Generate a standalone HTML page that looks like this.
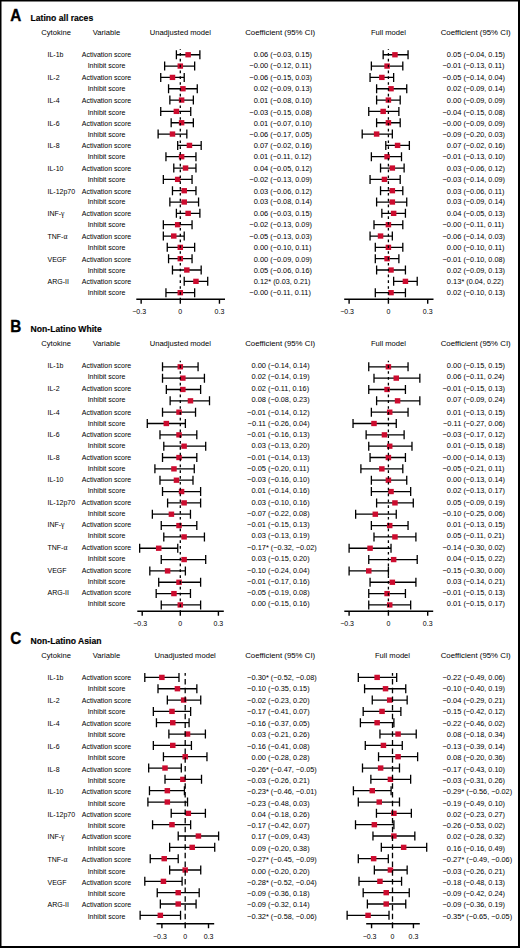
<!DOCTYPE html>
<html><head><meta charset="utf-8"><title>Forest plot</title><style>html,body{margin:0;padding:0;background:#fff;width:520px;height:948px;overflow:hidden}
svg{display:block}
text{font-family:"Liberation Sans",sans-serif;fill:#000}
.L{font-size:16.6px;font-weight:700;fill:#000;stroke:#000;stroke-width:0.35px}
.T{font-size:8.6px;font-weight:700;fill:#000;stroke:#000;stroke-width:0.15px}
.H{font-size:7.6px}
.H2{font-size:7.85px}
.R{font-size:7.0px}
.G{font-family:"Liberation Serif",serif;font-size:7.6px}
.C{font-size:7.5px}
.C2{font-size:7.3px}
.K{font-size:7.0px}
</style></head><body>
<svg width="520" height="948" viewBox="0 0 520 948">
<rect x="0" y="0" width="520" height="948" fill="#fff"/>
<text transform="translate(10.3 20.7) scale(0.92 1)" class="L">A</text>
<text x="30.6" y="20.8" class="T">Latino all races</text>
<text x="56.1" y="35.1" class="H" text-anchor="middle">Cytokine</text>
<text x="106.5" y="35.1" class="H" text-anchor="middle">Variable</text>
<text x="180.3" y="35.1" class="H" text-anchor="middle">Unadjusted model</text>
<text x="280.2" y="35.1" class="H2" text-anchor="middle">Coefficient (95% CI)</text>
<text x="388.4" y="35.1" class="H" text-anchor="middle">Full model</text>
<text x="475.7" y="35.1" class="H2" text-anchor="middle">Coefficient (95% CI)</text>
<text x="47.5" y="56.6" class="R">IL-1b</text>
<text x="106.5" y="56.6" class="R" text-anchor="middle">Activation score</text>
<text x="106.5" y="67.7" class="R" text-anchor="middle">Inhibit score</text>
<text x="47.5" y="79.9" class="R">IL-2</text>
<text x="106.5" y="79.9" class="R" text-anchor="middle">Activation score</text>
<text x="106.5" y="91.2" class="R" text-anchor="middle">Inhibit score</text>
<text x="47.5" y="103.3" class="R">IL-4</text>
<text x="106.5" y="103.3" class="R" text-anchor="middle">Activation score</text>
<text x="106.5" y="114.7" class="R" text-anchor="middle">Inhibit score</text>
<text x="47.5" y="125.7" class="R">IL-6</text>
<text x="106.5" y="125.7" class="R" text-anchor="middle">Activation score</text>
<text x="106.5" y="136.9" class="R" text-anchor="middle">Inhibit score</text>
<text x="47.5" y="148.2" class="R">IL-8</text>
<text x="106.5" y="148.2" class="R" text-anchor="middle">Activation score</text>
<text x="106.5" y="159.4" class="R" text-anchor="middle">Inhibit score</text>
<text x="47.5" y="171" class="R">IL-10</text>
<text x="106.5" y="171" class="R" text-anchor="middle">Activation score</text>
<text x="106.5" y="181.9" class="R" text-anchor="middle">Inhibit score</text>
<text x="47.5" y="193.5" class="R">IL-12p70</text>
<text x="106.5" y="193.5" class="R" text-anchor="middle">Activation score</text>
<text x="106.5" y="204.4" class="R" text-anchor="middle">Inhibit score</text>
<text x="47.5" y="216.1" class="R">INF-<tspan class="G">γ</tspan></text>
<text x="106.5" y="216.1" class="R" text-anchor="middle">Activation score</text>
<text x="106.5" y="226.9" class="R" text-anchor="middle">Inhibit score</text>
<text x="47.5" y="238.9" class="R">TNF-<tspan class="G">α</tspan></text>
<text x="106.5" y="238.9" class="R" text-anchor="middle">Activation score</text>
<text x="106.5" y="249.7" class="R" text-anchor="middle">Inhibit score</text>
<text x="47.5" y="261.7" class="R">VEGF</text>
<text x="106.5" y="261.7" class="R" text-anchor="middle">Activation score</text>
<text x="106.5" y="272.5" class="R" text-anchor="middle">Inhibit score</text>
<text x="47.5" y="284.2" class="R">ARG-II</text>
<text x="106.5" y="284.2" class="R" text-anchor="middle">Activation score</text>
<text x="106.5" y="295.4" class="R" text-anchor="middle">Inhibit score</text>
<text x="268.3" y="56.6" class="C" text-anchor="end">0.06</text>
<text x="268.3" y="56.6" class="C2"> (−0.03, 0.15)</text>
<text x="268.3" y="67.7" class="C" text-anchor="end">−0.00</text>
<text x="268.3" y="67.7" class="C2"> (−0.12, 0.11)</text>
<text x="268.3" y="79.9" class="C" text-anchor="end">−0.06</text>
<text x="268.3" y="79.9" class="C2"> (−0.15, 0.03)</text>
<text x="268.3" y="91.2" class="C" text-anchor="end">0.02</text>
<text x="268.3" y="91.2" class="C2"> (−0.09, 0.13)</text>
<text x="268.3" y="103.3" class="C" text-anchor="end">0.01</text>
<text x="268.3" y="103.3" class="C2"> (−0.08, 0.10)</text>
<text x="268.3" y="114.7" class="C" text-anchor="end">−0.03</text>
<text x="268.3" y="114.7" class="C2"> (−0.15, 0.08)</text>
<text x="268.3" y="125.7" class="C" text-anchor="end">0.01</text>
<text x="268.3" y="125.7" class="C2"> (−0.07, 0.10)</text>
<text x="268.3" y="136.9" class="C" text-anchor="end">−0.06</text>
<text x="268.3" y="136.9" class="C2"> (−0.17, 0.05)</text>
<text x="268.3" y="148.2" class="C" text-anchor="end">0.07</text>
<text x="268.3" y="148.2" class="C2"> (−0.02, 0.16)</text>
<text x="268.3" y="159.4" class="C" text-anchor="end">0.01</text>
<text x="268.3" y="159.4" class="C2"> (−0.11, 0.12)</text>
<text x="268.3" y="171" class="C" text-anchor="end">0.04</text>
<text x="268.3" y="171" class="C2"> (−0.05, 0.12)</text>
<text x="268.3" y="181.9" class="C" text-anchor="end">−0.02</text>
<text x="268.3" y="181.9" class="C2"> (−0.13, 0.09)</text>
<text x="268.3" y="193.5" class="C" text-anchor="end">0.03</text>
<text x="268.3" y="193.5" class="C2"> (−0.06, 0.12)</text>
<text x="268.3" y="204.4" class="C" text-anchor="end">0.03</text>
<text x="268.3" y="204.4" class="C2"> (−0.08, 0.14)</text>
<text x="268.3" y="216.1" class="C" text-anchor="end">0.06</text>
<text x="268.3" y="216.1" class="C2"> (−0.03, 0.15)</text>
<text x="268.3" y="226.9" class="C" text-anchor="end">−0.02</text>
<text x="268.3" y="226.9" class="C2"> (−0.13, 0.09)</text>
<text x="268.3" y="238.9" class="C" text-anchor="end">−0.05</text>
<text x="268.3" y="238.9" class="C2"> (−0.13, 0.03)</text>
<text x="268.3" y="249.7" class="C" text-anchor="end">0.00</text>
<text x="268.3" y="249.7" class="C2"> (−0.10, 0.11)</text>
<text x="268.3" y="261.7" class="C" text-anchor="end">0.00</text>
<text x="268.3" y="261.7" class="C2"> (−0.09, 0.09)</text>
<text x="268.3" y="272.5" class="C" text-anchor="end">0.05</text>
<text x="268.3" y="272.5" class="C2"> (−0.06, 0.16)</text>
<text x="268.3" y="284.2" class="C" text-anchor="end">0.12</text>
<text x="268.3" y="284.2" class="C2">* (0.03, 0.21)</text>
<text x="268.3" y="295.4" class="C" text-anchor="end">−0.00</text>
<text x="268.3" y="295.4" class="C2"> (−0.11, 0.11)</text>
<path d="M176.39 54.75H199.88M164.64 66.08H194.66M160.73 77.41H184.22M168.56 88.74H197.27M169.86 100.07H193.35M160.73 111.4H190.74M171.17 122.73H193.35M158.12 134.06H186.83M177.69 145.39H201.18M165.95 156.72H195.96M173.78 168.05H195.96M163.34 179.38H192.05M172.47 190.71H195.96M169.86 202.04H198.57M176.39 213.37H199.88M163.34 224.7H192.05M163.34 236.03H184.22M167.25 247.36H194.66M168.56 258.69H192.05M172.47 270.02H201.18M184.22 281.35H207.71M165.95 292.68H194.66M176.39 50.25v9.0M199.88 50.25v9.0M164.64 61.58v9.0M194.66 61.58v9.0M160.73 72.91v9.0M184.22 72.91v9.0M168.56 84.24v9.0M197.27 84.24v9.0M169.86 95.57v9.0M193.35 95.57v9.0M160.73 106.9v9.0M190.74 106.9v9.0M171.17 118.23v9.0M193.35 118.23v9.0M158.12 129.56v9.0M186.83 129.56v9.0M177.69 140.89v9.0M201.18 140.89v9.0M165.95 152.22v9.0M195.96 152.22v9.0M173.78 163.55v9.0M195.96 163.55v9.0M163.34 174.88v9.0M192.05 174.88v9.0M172.47 186.21v9.0M195.96 186.21v9.0M169.86 197.54v9.0M198.57 197.54v9.0M176.39 208.87v9.0M199.88 208.87v9.0M163.34 220.2v9.0M192.05 220.2v9.0M163.34 231.53v9.0M184.22 231.53v9.0M167.25 242.86v9.0M194.66 242.86v9.0M168.56 254.19v9.0M192.05 254.19v9.0M172.47 265.52v9.0M201.18 265.52v9.0M184.22 276.85v9.0M207.71 276.85v9.0M165.95 288.18v9.0M194.66 288.18v9.0" stroke="#000" stroke-width="1.3" fill="none"/>
<g fill="#cc0c2f"><rect x="185.38" y="52.1" width="5.5" height="5.3"/><rect x="177.55" y="63.43" width="5.5" height="5.3"/><rect x="169.72" y="74.76" width="5.5" height="5.3"/><rect x="180.16" y="86.09" width="5.5" height="5.3"/><rect x="178.86" y="97.42" width="5.5" height="5.3"/><rect x="173.64" y="108.75" width="5.5" height="5.3"/><rect x="178.86" y="120.08" width="5.5" height="5.3"/><rect x="169.72" y="131.41" width="5.5" height="5.3"/><rect x="186.69" y="142.74" width="5.5" height="5.3"/><rect x="178.86" y="154.07" width="5.5" height="5.3"/><rect x="182.77" y="165.4" width="5.5" height="5.3"/><rect x="174.94" y="176.73" width="5.5" height="5.3"/><rect x="181.47" y="188.06" width="5.5" height="5.3"/><rect x="181.47" y="199.39" width="5.5" height="5.3"/><rect x="185.38" y="210.72" width="5.5" height="5.3"/><rect x="174.94" y="222.05" width="5.5" height="5.3"/><rect x="171.03" y="233.38" width="5.5" height="5.3"/><rect x="177.55" y="244.71" width="5.5" height="5.3"/><rect x="177.55" y="256.04" width="5.5" height="5.3"/><rect x="184.08" y="267.37" width="5.5" height="5.3"/><rect x="193.21" y="278.7" width="5.5" height="5.3"/><rect x="177.55" y="290.03" width="5.5" height="5.3"/></g>
<path d="M180.3 48.9V299.3" stroke="#000" stroke-width="1.3" stroke-dasharray="2.65 3.18" stroke-dashoffset="1.73" fill="none"/>
<path d="M136.3 299.3H225M141.15 299.3v4.5M180.3 299.3v4.5M219.45 299.3v4.5" stroke="#000" stroke-width="1.4" fill="none"/>
<text x="139.15" y="314.3" class="K" text-anchor="middle">−0.3</text>
<text x="180.3" y="314.3" class="K" text-anchor="middle">0</text>
<text x="219.45" y="314.3" class="K" text-anchor="middle">0.3</text>
<text x="461.4" y="56.6" class="C" text-anchor="end">0.05</text>
<text x="461.4" y="56.6" class="C2"> (−0.04, 0.15)</text>
<text x="461.4" y="67.7" class="C" text-anchor="end">−0.01</text>
<text x="461.4" y="67.7" class="C2"> (−0.13, 0.11)</text>
<text x="461.4" y="79.9" class="C" text-anchor="end">−0.05</text>
<text x="461.4" y="79.9" class="C2"> (−0.14, 0.04)</text>
<text x="461.4" y="91.2" class="C" text-anchor="end">0.02</text>
<text x="461.4" y="91.2" class="C2"> (−0.09, 0.14)</text>
<text x="461.4" y="103.3" class="C" text-anchor="end">0.00</text>
<text x="461.4" y="103.3" class="C2"> (−0.09, 0.09)</text>
<text x="461.4" y="114.7" class="C" text-anchor="end">−0.04</text>
<text x="461.4" y="114.7" class="C2"> (−0.15, 0.08)</text>
<text x="461.4" y="125.7" class="C" text-anchor="end">−0.00</text>
<text x="461.4" y="125.7" class="C2"> (−0.09, 0.09)</text>
<text x="461.4" y="136.9" class="C" text-anchor="end">−0.09</text>
<text x="461.4" y="136.9" class="C2"> (−0.20, 0.03)</text>
<text x="461.4" y="148.2" class="C" text-anchor="end">0.07</text>
<text x="461.4" y="148.2" class="C2"> (−0.02, 0.16)</text>
<text x="461.4" y="159.4" class="C" text-anchor="end">−0.01</text>
<text x="461.4" y="159.4" class="C2"> (−0.13, 0.10)</text>
<text x="461.4" y="171" class="C" text-anchor="end">0.03</text>
<text x="461.4" y="171" class="C2"> (−0.06, 0.12)</text>
<text x="461.4" y="181.9" class="C" text-anchor="end">−0.03</text>
<text x="461.4" y="181.9" class="C2"> (−0.14, 0.09)</text>
<text x="461.4" y="193.5" class="C" text-anchor="end">0.03</text>
<text x="461.4" y="193.5" class="C2"> (−0.06, 0.11)</text>
<text x="461.4" y="204.4" class="C" text-anchor="end">0.03</text>
<text x="461.4" y="204.4" class="C2"> (−0.09, 0.14)</text>
<text x="461.4" y="216.1" class="C" text-anchor="end">0.04</text>
<text x="461.4" y="216.1" class="C2"> (−0.05, 0.13)</text>
<text x="461.4" y="226.9" class="C" text-anchor="end">−0.00</text>
<text x="461.4" y="226.9" class="C2"> (−0.11, 0.11)</text>
<text x="461.4" y="238.9" class="C" text-anchor="end">−0.06</text>
<text x="461.4" y="238.9" class="C2"> (−0.14, 0.03)</text>
<text x="461.4" y="249.7" class="C" text-anchor="end">0.00</text>
<text x="461.4" y="249.7" class="C2"> (−0.10, 0.11)</text>
<text x="461.4" y="261.7" class="C" text-anchor="end">−0.01</text>
<text x="461.4" y="261.7" class="C2"> (−0.10, 0.08)</text>
<text x="461.4" y="272.5" class="C" text-anchor="end">0.02</text>
<text x="461.4" y="272.5" class="C2"> (−0.09, 0.13)</text>
<text x="461.4" y="284.2" class="C" text-anchor="end">0.13</text>
<text x="461.4" y="284.2" class="C2">* (0.04, 0.22)</text>
<text x="461.4" y="295.4" class="C" text-anchor="end">0.02</text>
<text x="461.4" y="295.4" class="C2"> (−0.10, 0.13)</text>
<path d="M383.16 54.75H408.05M371.37 66.08H402.81M370.06 77.41H393.64M376.61 88.74H406.74M376.61 100.07H400.19M368.75 111.4H398.88M376.61 122.73H400.19M362.2 134.06H392.33M385.78 145.39H409.36M371.37 156.72H401.5M380.54 168.05H404.12M370.06 179.38H400.19M380.54 190.71H402.81M376.61 202.04H406.74M381.85 213.37H405.43M373.99 224.7H402.81M370.06 236.03H392.33M375.3 247.36H402.81M375.3 258.69H398.88M376.61 270.02H405.43M393.64 281.35H417.22M375.3 292.68H405.43M383.16 50.25v9.0M408.05 50.25v9.0M371.37 61.58v9.0M402.81 61.58v9.0M370.06 72.91v9.0M393.64 72.91v9.0M376.61 84.24v9.0M406.74 84.24v9.0M376.61 95.57v9.0M400.19 95.57v9.0M368.75 106.9v9.0M398.88 106.9v9.0M376.61 118.23v9.0M400.19 118.23v9.0M362.2 129.56v9.0M392.33 129.56v9.0M385.78 140.89v9.0M409.36 140.89v9.0M371.37 152.22v9.0M401.5 152.22v9.0M380.54 163.55v9.0M404.12 163.55v9.0M370.06 174.88v9.0M400.19 174.88v9.0M380.54 186.21v9.0M402.81 186.21v9.0M376.61 197.54v9.0M406.74 197.54v9.0M381.85 208.87v9.0M405.43 208.87v9.0M373.99 220.2v9.0M402.81 220.2v9.0M370.06 231.53v9.0M392.33 231.53v9.0M375.3 242.86v9.0M402.81 242.86v9.0M375.3 254.19v9.0M398.88 254.19v9.0M376.61 265.52v9.0M405.43 265.52v9.0M393.64 276.85v9.0M417.22 276.85v9.0M375.3 288.18v9.0M405.43 288.18v9.0" stroke="#000" stroke-width="1.3" fill="none"/>
<g fill="#cc0c2f"><rect x="392.2" y="52.1" width="5.5" height="5.3"/><rect x="384.34" y="63.43" width="5.5" height="5.3"/><rect x="379.1" y="74.76" width="5.5" height="5.3"/><rect x="388.27" y="86.09" width="5.5" height="5.3"/><rect x="385.65" y="97.42" width="5.5" height="5.3"/><rect x="380.41" y="108.75" width="5.5" height="5.3"/><rect x="385.65" y="120.08" width="5.5" height="5.3"/><rect x="373.86" y="131.41" width="5.5" height="5.3"/><rect x="394.82" y="142.74" width="5.5" height="5.3"/><rect x="384.34" y="154.07" width="5.5" height="5.3"/><rect x="389.58" y="165.4" width="5.5" height="5.3"/><rect x="381.72" y="176.73" width="5.5" height="5.3"/><rect x="389.58" y="188.06" width="5.5" height="5.3"/><rect x="389.58" y="199.39" width="5.5" height="5.3"/><rect x="390.89" y="210.72" width="5.5" height="5.3"/><rect x="385.65" y="222.05" width="5.5" height="5.3"/><rect x="377.79" y="233.38" width="5.5" height="5.3"/><rect x="385.65" y="244.71" width="5.5" height="5.3"/><rect x="384.34" y="256.04" width="5.5" height="5.3"/><rect x="388.27" y="267.37" width="5.5" height="5.3"/><rect x="402.68" y="278.7" width="5.5" height="5.3"/><rect x="388.27" y="290.03" width="5.5" height="5.3"/></g>
<path d="M388.4 48.9V299.3" stroke="#000" stroke-width="1.3" stroke-dasharray="2.65 3.18" stroke-dashoffset="1.73" fill="none"/>
<path d="M344.2 299.3H433.5M349.1 299.3v4.5M388.4 299.3v4.5M427.7 299.3v4.5" stroke="#000" stroke-width="1.4" fill="none"/>
<text x="347.1" y="314.3" class="K" text-anchor="middle">−0.3</text>
<text x="388.4" y="314.3" class="K" text-anchor="middle">0</text>
<text x="427.7" y="314.3" class="K" text-anchor="middle">0.3</text>
<text transform="translate(10.3 332.1) scale(0.92 1)" class="L">B</text>
<text x="30.6" y="332" class="T">Non-Latino White</text>
<text x="56.1" y="346.4" class="H" text-anchor="middle">Cytokine</text>
<text x="106.5" y="346.4" class="H" text-anchor="middle">Variable</text>
<text x="180.3" y="346.4" class="H" text-anchor="middle">Unadjusted model</text>
<text x="280.2" y="346.4" class="H2" text-anchor="middle">Coefficient (95% CI)</text>
<text x="388.4" y="346.4" class="H" text-anchor="middle">Full model</text>
<text x="475.7" y="346.4" class="H2" text-anchor="middle">Coefficient (95% CI)</text>
<text x="47.5" y="367.8" class="R">IL-1b</text>
<text x="106.5" y="367.8" class="R" text-anchor="middle">Activation score</text>
<text x="106.5" y="379.1" class="R" text-anchor="middle">Inhibit score</text>
<text x="47.5" y="391.2" class="R">IL-2</text>
<text x="106.5" y="391.2" class="R" text-anchor="middle">Activation score</text>
<text x="106.5" y="402.4" class="R" text-anchor="middle">Inhibit score</text>
<text x="47.5" y="414.5" class="R">IL-4</text>
<text x="106.5" y="414.5" class="R" text-anchor="middle">Activation score</text>
<text x="106.5" y="425.5" class="R" text-anchor="middle">Inhibit score</text>
<text x="47.5" y="437" class="R">IL-6</text>
<text x="106.5" y="437" class="R" text-anchor="middle">Activation score</text>
<text x="106.5" y="448.3" class="R" text-anchor="middle">Inhibit score</text>
<text x="47.5" y="459.6" class="R">IL-8</text>
<text x="106.5" y="459.6" class="R" text-anchor="middle">Activation score</text>
<text x="106.5" y="470.5" class="R" text-anchor="middle">Inhibit score</text>
<text x="47.5" y="482.3" class="R">IL-10</text>
<text x="106.5" y="482.3" class="R" text-anchor="middle">Activation score</text>
<text x="106.5" y="493.3" class="R" text-anchor="middle">Inhibit score</text>
<text x="47.5" y="504.8" class="R">IL-12p70</text>
<text x="106.5" y="504.8" class="R" text-anchor="middle">Activation score</text>
<text x="106.5" y="515.8" class="R" text-anchor="middle">Inhibit score</text>
<text x="47.5" y="527" class="R">INF-<tspan class="G">γ</tspan></text>
<text x="106.5" y="527" class="R" text-anchor="middle">Activation score</text>
<text x="106.5" y="538.3" class="R" text-anchor="middle">Inhibit score</text>
<text x="47.5" y="549.8" class="R">TNF-<tspan class="G">α</tspan></text>
<text x="106.5" y="549.8" class="R" text-anchor="middle">Activation score</text>
<text x="106.5" y="561.1" class="R" text-anchor="middle">Inhibit score</text>
<text x="47.5" y="572.7" class="R">VEGF</text>
<text x="106.5" y="572.7" class="R" text-anchor="middle">Activation score</text>
<text x="106.5" y="583.9" class="R" text-anchor="middle">Inhibit score</text>
<text x="47.5" y="595" class="R">ARG-II</text>
<text x="106.5" y="595" class="R" text-anchor="middle">Activation score</text>
<text x="106.5" y="606.4" class="R" text-anchor="middle">Inhibit score</text>
<text x="266" y="367.8" class="C" text-anchor="end">0.00</text>
<text x="266" y="367.8" class="C2"> (−0.14, 0.14)</text>
<text x="266" y="379.1" class="C" text-anchor="end">0.02</text>
<text x="266" y="379.1" class="C2"> (−0.14, 0.19)</text>
<text x="266" y="391.2" class="C" text-anchor="end">0.02</text>
<text x="266" y="391.2" class="C2"> (−0.11, 0.16)</text>
<text x="266" y="402.4" class="C" text-anchor="end">0.08</text>
<text x="266" y="402.4" class="C2"> (−0.08, 0.23)</text>
<text x="266" y="414.5" class="C" text-anchor="end">−0.01</text>
<text x="266" y="414.5" class="C2"> (−0.14, 0.12)</text>
<text x="266" y="425.5" class="C" text-anchor="end">−0.11</text>
<text x="266" y="425.5" class="C2"> (−0.26, 0.04)</text>
<text x="266" y="437" class="C" text-anchor="end">−0.01</text>
<text x="266" y="437" class="C2"> (−0.16, 0.13)</text>
<text x="266" y="448.3" class="C" text-anchor="end">0.03</text>
<text x="266" y="448.3" class="C2"> (−0.13, 0.20)</text>
<text x="266" y="459.6" class="C" text-anchor="end">−0.01</text>
<text x="266" y="459.6" class="C2"> (−0.14, 0.13)</text>
<text x="266" y="470.5" class="C" text-anchor="end">−0.05</text>
<text x="266" y="470.5" class="C2"> (−0.20, 0.11)</text>
<text x="266" y="482.3" class="C" text-anchor="end">−0.03</text>
<text x="266" y="482.3" class="C2"> (−0.16, 0.10)</text>
<text x="266" y="493.3" class="C" text-anchor="end">0.01</text>
<text x="266" y="493.3" class="C2"> (−0.14, 0.16)</text>
<text x="266" y="504.8" class="C" text-anchor="end">0.03</text>
<text x="266" y="504.8" class="C2"> (−0.10, 0.16)</text>
<text x="266" y="515.8" class="C" text-anchor="end">−0.07</text>
<text x="266" y="515.8" class="C2"> (−0.22, 0.08)</text>
<text x="266" y="527" class="C" text-anchor="end">−0.01</text>
<text x="266" y="527" class="C2"> (−0.15, 0.13)</text>
<text x="266" y="538.3" class="C" text-anchor="end">0.03</text>
<text x="266" y="538.3" class="C2"> (−0.13, 0.19)</text>
<text x="266" y="549.8" class="C" text-anchor="end">−0.17</text>
<text x="266" y="549.8" class="C2">* (−0.32, −0.02)</text>
<text x="266" y="561.1" class="C" text-anchor="end">0.03</text>
<text x="266" y="561.1" class="C2"> (−0.15, 0.20)</text>
<text x="266" y="572.7" class="C" text-anchor="end">−0.10</text>
<text x="266" y="572.7" class="C2"> (−0.24, 0.04)</text>
<text x="266" y="583.9" class="C" text-anchor="end">−0.01</text>
<text x="266" y="583.9" class="C2"> (−0.17, 0.16)</text>
<text x="266" y="595" class="C" text-anchor="end">−0.05</text>
<text x="266" y="595" class="C2"> (−0.19, 0.08)</text>
<text x="266" y="606.4" class="C" text-anchor="end">0.00</text>
<text x="266" y="606.4" class="C2"> (−0.15, 0.16)</text>
<path d="M162.52 366.8H198.08M162.52 378.14H204.43M166.33 389.48H200.62M170.14 400.82H209.51M162.52 412.16H195.54M147.28 423.5H185.38M159.98 434.84H196.81M163.79 446.18H205.7M162.52 457.52H196.81M154.9 468.86H194.27M159.98 480.2H193M162.52 491.54H200.62M167.6 502.88H200.62M152.36 514.22H190.46M161.25 525.56H196.81M163.79 536.9H204.43M139.66 548.24H177.76M161.25 559.58H205.7M149.82 570.92H185.38M158.71 582.26H200.62M156.17 593.6H190.46M161.25 604.94H200.62M162.52 362.3v9.0M198.08 362.3v9.0M162.52 373.64v9.0M204.43 373.64v9.0M166.33 384.98v9.0M200.62 384.98v9.0M170.14 396.32v9.0M209.51 396.32v9.0M162.52 407.66v9.0M195.54 407.66v9.0M147.28 419v9.0M185.38 419v9.0M159.98 430.34v9.0M196.81 430.34v9.0M163.79 441.68v9.0M205.7 441.68v9.0M162.52 453.02v9.0M196.81 453.02v9.0M154.9 464.36v9.0M194.27 464.36v9.0M159.98 475.7v9.0M193 475.7v9.0M162.52 487.04v9.0M200.62 487.04v9.0M167.6 498.38v9.0M200.62 498.38v9.0M152.36 509.72v9.0M190.46 509.72v9.0M161.25 521.06v9.0M196.81 521.06v9.0M163.79 532.4v9.0M204.43 532.4v9.0M139.66 543.74v9.0M177.76 543.74v9.0M161.25 555.08v9.0M205.7 555.08v9.0M149.82 566.42v9.0M185.38 566.42v9.0M158.71 577.76v9.0M200.62 577.76v9.0M156.17 589.1v9.0M190.46 589.1v9.0M161.25 600.44v9.0M200.62 600.44v9.0" stroke="#000" stroke-width="1.3" fill="none"/>
<g fill="#cc0c2f"><rect x="177.55" y="364.15" width="5.5" height="5.3"/><rect x="180.09" y="375.49" width="5.5" height="5.3"/><rect x="180.09" y="386.83" width="5.5" height="5.3"/><rect x="187.71" y="398.17" width="5.5" height="5.3"/><rect x="176.28" y="409.51" width="5.5" height="5.3"/><rect x="163.58" y="420.85" width="5.5" height="5.3"/><rect x="176.28" y="432.19" width="5.5" height="5.3"/><rect x="181.36" y="443.53" width="5.5" height="5.3"/><rect x="176.28" y="454.87" width="5.5" height="5.3"/><rect x="171.2" y="466.21" width="5.5" height="5.3"/><rect x="173.74" y="477.55" width="5.5" height="5.3"/><rect x="178.82" y="488.89" width="5.5" height="5.3"/><rect x="181.36" y="500.23" width="5.5" height="5.3"/><rect x="168.66" y="511.57" width="5.5" height="5.3"/><rect x="176.28" y="522.91" width="5.5" height="5.3"/><rect x="181.36" y="534.25" width="5.5" height="5.3"/><rect x="155.96" y="545.59" width="5.5" height="5.3"/><rect x="181.36" y="556.93" width="5.5" height="5.3"/><rect x="164.85" y="568.27" width="5.5" height="5.3"/><rect x="176.28" y="579.61" width="5.5" height="5.3"/><rect x="171.2" y="590.95" width="5.5" height="5.3"/><rect x="177.55" y="602.29" width="5.5" height="5.3"/></g>
<path d="M180.3 360.8V611.3" stroke="#000" stroke-width="1.3" stroke-dasharray="2.7 3.13" stroke-dashoffset="1.31" fill="none"/>
<path d="M137.3 611.3H223.8M142.2 611.3v4.5M180.3 611.3v4.5M218.4 611.3v4.5" stroke="#000" stroke-width="1.4" fill="none"/>
<text x="140.2" y="626.3" class="K" text-anchor="middle">−0.3</text>
<text x="180.3" y="626.3" class="K" text-anchor="middle">0</text>
<text x="218.4" y="626.3" class="K" text-anchor="middle">0.3</text>
<text x="461.4" y="367.8" class="C" text-anchor="end">0.00</text>
<text x="461.4" y="367.8" class="C2"> (−0.15, 0.15)</text>
<text x="461.4" y="379.1" class="C" text-anchor="end">0.06</text>
<text x="461.4" y="379.1" class="C2"> (−0.11, 0.24)</text>
<text x="461.4" y="391.2" class="C" text-anchor="end">−0.01</text>
<text x="461.4" y="391.2" class="C2"> (−0.15, 0.13)</text>
<text x="461.4" y="402.4" class="C" text-anchor="end">0.07</text>
<text x="461.4" y="402.4" class="C2"> (−0.09, 0.24)</text>
<text x="461.4" y="414.5" class="C" text-anchor="end">0.01</text>
<text x="461.4" y="414.5" class="C2"> (−0.13, 0.15)</text>
<text x="461.4" y="425.5" class="C" text-anchor="end">−0.11</text>
<text x="461.4" y="425.5" class="C2"> (−0.27, 0.06)</text>
<text x="461.4" y="437" class="C" text-anchor="end">−0.03</text>
<text x="461.4" y="437" class="C2"> (−0.17, 0.12)</text>
<text x="461.4" y="448.3" class="C" text-anchor="end">0.01</text>
<text x="461.4" y="448.3" class="C2"> (−0.15, 0.18)</text>
<text x="461.4" y="459.6" class="C" text-anchor="end">−0.00</text>
<text x="461.4" y="459.6" class="C2"> (−0.14, 0.13)</text>
<text x="461.4" y="470.5" class="C" text-anchor="end">−0.05</text>
<text x="461.4" y="470.5" class="C2"> (−0.21, 0.11)</text>
<text x="461.4" y="482.3" class="C" text-anchor="end">0.00</text>
<text x="461.4" y="482.3" class="C2"> (−0.13, 0.14)</text>
<text x="461.4" y="493.3" class="C" text-anchor="end">0.02</text>
<text x="461.4" y="493.3" class="C2"> (−0.13, 0.17)</text>
<text x="461.4" y="504.8" class="C" text-anchor="end">0.05</text>
<text x="461.4" y="504.8" class="C2"> (−0.09, 0.19)</text>
<text x="461.4" y="515.8" class="C" text-anchor="end">−0.10</text>
<text x="461.4" y="515.8" class="C2"> (−0.25, 0.06)</text>
<text x="461.4" y="527" class="C" text-anchor="end">0.01</text>
<text x="461.4" y="527" class="C2"> (−0.13, 0.15)</text>
<text x="461.4" y="538.3" class="C" text-anchor="end">0.05</text>
<text x="461.4" y="538.3" class="C2"> (−0.11, 0.21)</text>
<text x="461.4" y="549.8" class="C" text-anchor="end">−0.14</text>
<text x="461.4" y="549.8" class="C2"> (−0.30, 0.02)</text>
<text x="461.4" y="561.1" class="C" text-anchor="end">0.04</text>
<text x="461.4" y="561.1" class="C2"> (−0.15, 0.22)</text>
<text x="461.4" y="572.7" class="C" text-anchor="end">−0.15</text>
<text x="461.4" y="572.7" class="C2"> (−0.30, 0.00)</text>
<text x="461.4" y="583.9" class="C" text-anchor="end">0.03</text>
<text x="461.4" y="583.9" class="C2"> (−0.14, 0.21)</text>
<text x="461.4" y="595" class="C" text-anchor="end">−0.01</text>
<text x="461.4" y="595" class="C2"> (−0.15, 0.13)</text>
<text x="461.4" y="606.4" class="C" text-anchor="end">0.01</text>
<text x="461.4" y="606.4" class="C2"> (−0.15, 0.17)</text>
<path d="M368.75 366.8H408.05M373.99 378.14H419.84M368.75 389.48H405.43M376.61 400.82H419.84M371.37 412.16H408.05M353.03 423.5H396.26M366.13 434.84H404.12M368.75 446.18H411.98M370.06 457.52H405.43M360.89 468.86H402.81M371.37 480.2H406.74M371.37 491.54H410.67M376.61 502.88H413.29M355.65 514.22H396.26M371.37 525.56H408.05M373.99 536.9H415.91M349.1 548.24H391.02M368.75 559.58H417.22M349.1 570.92H388.4M370.06 582.26H415.91M368.75 593.6H405.43M368.75 604.94H410.67M368.75 362.3v9.0M408.05 362.3v9.0M373.99 373.64v9.0M419.84 373.64v9.0M368.75 384.98v9.0M405.43 384.98v9.0M376.61 396.32v9.0M419.84 396.32v9.0M371.37 407.66v9.0M408.05 407.66v9.0M353.03 419v9.0M396.26 419v9.0M366.13 430.34v9.0M404.12 430.34v9.0M368.75 441.68v9.0M411.98 441.68v9.0M370.06 453.02v9.0M405.43 453.02v9.0M360.89 464.36v9.0M402.81 464.36v9.0M371.37 475.7v9.0M406.74 475.7v9.0M371.37 487.04v9.0M410.67 487.04v9.0M376.61 498.38v9.0M413.29 498.38v9.0M355.65 509.72v9.0M396.26 509.72v9.0M371.37 521.06v9.0M408.05 521.06v9.0M373.99 532.4v9.0M415.91 532.4v9.0M349.1 543.74v9.0M391.02 543.74v9.0M368.75 555.08v9.0M417.22 555.08v9.0M349.1 566.42v9.0M388.4 566.42v9.0M370.06 577.76v9.0M415.91 577.76v9.0M368.75 589.1v9.0M405.43 589.1v9.0M368.75 600.44v9.0M410.67 600.44v9.0" stroke="#000" stroke-width="1.3" fill="none"/>
<g fill="#cc0c2f"><rect x="385.65" y="364.15" width="5.5" height="5.3"/><rect x="393.51" y="375.49" width="5.5" height="5.3"/><rect x="384.34" y="386.83" width="5.5" height="5.3"/><rect x="394.82" y="398.17" width="5.5" height="5.3"/><rect x="386.96" y="409.51" width="5.5" height="5.3"/><rect x="371.24" y="420.85" width="5.5" height="5.3"/><rect x="381.72" y="432.19" width="5.5" height="5.3"/><rect x="386.96" y="443.53" width="5.5" height="5.3"/><rect x="385.65" y="454.87" width="5.5" height="5.3"/><rect x="379.1" y="466.21" width="5.5" height="5.3"/><rect x="385.65" y="477.55" width="5.5" height="5.3"/><rect x="388.27" y="488.89" width="5.5" height="5.3"/><rect x="392.2" y="500.23" width="5.5" height="5.3"/><rect x="372.55" y="511.57" width="5.5" height="5.3"/><rect x="386.96" y="522.91" width="5.5" height="5.3"/><rect x="392.2" y="534.25" width="5.5" height="5.3"/><rect x="367.31" y="545.59" width="5.5" height="5.3"/><rect x="390.89" y="556.93" width="5.5" height="5.3"/><rect x="366" y="568.27" width="5.5" height="5.3"/><rect x="389.58" y="579.61" width="5.5" height="5.3"/><rect x="384.34" y="590.95" width="5.5" height="5.3"/><rect x="386.96" y="602.29" width="5.5" height="5.3"/></g>
<path d="M388.4 360.8V611.3" stroke="#000" stroke-width="1.3" stroke-dasharray="2.7 3.13" stroke-dashoffset="1.31" fill="none"/>
<path d="M344.3 611.3H433.2M349.1 611.3v4.5M388.4 611.3v4.5M427.7 611.3v4.5" stroke="#000" stroke-width="1.4" fill="none"/>
<text x="347.1" y="626.3" class="K" text-anchor="middle">−0.3</text>
<text x="388.4" y="626.3" class="K" text-anchor="middle">0</text>
<text x="427.7" y="626.3" class="K" text-anchor="middle">0.3</text>
<text transform="translate(10.3 644.1) scale(0.92 1)" class="L">C</text>
<text x="30.6" y="644" class="T">Non-Latino Asian</text>
<text x="56.1" y="658.2" class="H" text-anchor="middle">Cytokine</text>
<text x="106.5" y="658.2" class="H" text-anchor="middle">Variable</text>
<text x="185.2" y="658.2" class="H" text-anchor="middle">Unadjusted model</text>
<text x="280.2" y="658.2" class="H2" text-anchor="middle">Coefficient (95% CI)</text>
<text x="392.5" y="658.2" class="H" text-anchor="middle">Full model</text>
<text x="475.7" y="658.2" class="H2" text-anchor="middle">Coefficient (95% CI)</text>
<text x="47.5" y="679.7" class="R">IL-1b</text>
<text x="106.5" y="679.7" class="R" text-anchor="middle">Activation score</text>
<text x="106.5" y="690.7" class="R" text-anchor="middle">Inhibit score</text>
<text x="47.5" y="702.8" class="R">IL-2</text>
<text x="106.5" y="702.8" class="R" text-anchor="middle">Activation score</text>
<text x="106.5" y="714.1" class="R" text-anchor="middle">Inhibit score</text>
<text x="47.5" y="726.1" class="R">IL-4</text>
<text x="106.5" y="726.1" class="R" text-anchor="middle">Activation score</text>
<text x="106.5" y="737.45" class="R" text-anchor="middle">Inhibit score</text>
<text x="47.5" y="748.5" class="R">IL-6</text>
<text x="106.5" y="748.5" class="R" text-anchor="middle">Activation score</text>
<text x="106.5" y="760" class="R" text-anchor="middle">Inhibit score</text>
<text x="47.5" y="771.6" class="R">IL-8</text>
<text x="106.5" y="771.6" class="R" text-anchor="middle">Activation score</text>
<text x="106.5" y="782.8" class="R" text-anchor="middle">Inhibit score</text>
<text x="47.5" y="794.2" class="R">IL-10</text>
<text x="106.5" y="794.2" class="R" text-anchor="middle">Activation score</text>
<text x="106.5" y="805.6" class="R" text-anchor="middle">Inhibit score</text>
<text x="47.5" y="817.1" class="R">IL-12p70</text>
<text x="106.5" y="817.1" class="R" text-anchor="middle">Activation score</text>
<text x="106.5" y="828.1" class="R" text-anchor="middle">Inhibit score</text>
<text x="47.5" y="839.3" class="R">INF-<tspan class="G">γ</tspan></text>
<text x="106.5" y="839.3" class="R" text-anchor="middle">Activation score</text>
<text x="106.5" y="850.65" class="R" text-anchor="middle">Inhibit score</text>
<text x="47.5" y="861.9" class="R">TNF-<tspan class="G">α</tspan></text>
<text x="106.5" y="861.9" class="R" text-anchor="middle">Activation score</text>
<text x="106.5" y="873.5" class="R" text-anchor="middle">Inhibit score</text>
<text x="47.5" y="884.7" class="R">VEGF</text>
<text x="106.5" y="884.7" class="R" text-anchor="middle">Activation score</text>
<text x="106.5" y="895.7" class="R" text-anchor="middle">Inhibit score</text>
<text x="47.5" y="907.3" class="R">ARG-II</text>
<text x="106.5" y="907.3" class="R" text-anchor="middle">Activation score</text>
<text x="106.5" y="918.6" class="R" text-anchor="middle">Inhibit score</text>
<text x="266" y="679.7" class="C" text-anchor="end">−0.30</text>
<text x="266" y="679.7" class="C2">* (−0.52, −0.08)</text>
<text x="266" y="690.7" class="C" text-anchor="end">−0.10</text>
<text x="266" y="690.7" class="C2"> (−0.35, 0.15)</text>
<text x="266" y="702.8" class="C" text-anchor="end">−0.02</text>
<text x="266" y="702.8" class="C2"> (−0.23, 0.20)</text>
<text x="266" y="714.1" class="C" text-anchor="end">−0.17</text>
<text x="266" y="714.1" class="C2"> (−0.41, 0.07)</text>
<text x="266" y="726.1" class="C" text-anchor="end">−0.16</text>
<text x="266" y="726.1" class="C2"> (−0.37, 0.05)</text>
<text x="266" y="737.45" class="C" text-anchor="end">0.03</text>
<text x="266" y="737.45" class="C2"> (−0.21, 0.26)</text>
<text x="266" y="748.5" class="C" text-anchor="end">−0.16</text>
<text x="266" y="748.5" class="C2"> (−0.41, 0.08)</text>
<text x="266" y="760" class="C" text-anchor="end">0.00</text>
<text x="266" y="760" class="C2"> (−0.28, 0.28)</text>
<text x="266" y="771.6" class="C" text-anchor="end">−0.26</text>
<text x="266" y="771.6" class="C2">* (−0.47, −0.05)</text>
<text x="266" y="782.8" class="C" text-anchor="end">−0.03</text>
<text x="266" y="782.8" class="C2"> (−0.26, 0.21)</text>
<text x="266" y="794.2" class="C" text-anchor="end">−0.23</text>
<text x="266" y="794.2" class="C2">* (−0.46, −0.01)</text>
<text x="266" y="805.6" class="C" text-anchor="end">−0.23</text>
<text x="266" y="805.6" class="C2"> (−0.48, 0.03)</text>
<text x="266" y="817.1" class="C" text-anchor="end">0.04</text>
<text x="266" y="817.1" class="C2"> (−0.18, 0.26)</text>
<text x="266" y="828.1" class="C" text-anchor="end">−0.17</text>
<text x="266" y="828.1" class="C2"> (−0.42, 0.07)</text>
<text x="266" y="839.3" class="C" text-anchor="end">0.17</text>
<text x="266" y="839.3" class="C2"> (−0.09, 0.43)</text>
<text x="266" y="850.65" class="C" text-anchor="end">0.09</text>
<text x="266" y="850.65" class="C2"> (−0.20, 0.38)</text>
<text x="266" y="861.9" class="C" text-anchor="end">−0.27</text>
<text x="266" y="861.9" class="C2">* (−0.45, −0.09)</text>
<text x="266" y="873.5" class="C" text-anchor="end">0.00</text>
<text x="266" y="873.5" class="C2"> (−0.20, 0.20)</text>
<text x="266" y="884.7" class="C" text-anchor="end">−0.28</text>
<text x="266" y="884.7" class="C2">* (−0.52, −0.04)</text>
<text x="266" y="895.7" class="C" text-anchor="end">−0.09</text>
<text x="266" y="895.7" class="C2"> (−0.36, 0.18)</text>
<text x="266" y="907.3" class="C" text-anchor="end">−0.09</text>
<text x="266" y="907.3" class="C2"> (−0.32, 0.14)</text>
<text x="266" y="918.6" class="C" text-anchor="end">−0.32</text>
<text x="266" y="918.6" class="C2">* (−0.58, −0.06)</text>
<path d="M144.8 677.4H178.98M158 688.73H196.85M167.33 700.06H200.74M153.34 711.39H190.64M156.45 722.72H189.08M168.88 734.05H205.4M153.34 745.38H191.42M163.44 756.71H206.96M148.68 768.04H181.31M165 779.37H201.52M149.46 790.7H184.42M147.9 802.03H187.53M171.21 813.36H205.4M152.57 824.69H190.64M178.21 836.02H218.61M169.66 847.35H214.73M150.23 858.68H178.21M169.66 870.01H200.74M144.8 881.34H182.09M157.23 892.67H199.19M160.34 904H196.08M140.13 915.33H180.54M144.8 672.9v9.0M178.98 672.9v9.0M158 684.23v9.0M196.85 684.23v9.0M167.33 695.56v9.0M200.74 695.56v9.0M153.34 706.89v9.0M190.64 706.89v9.0M156.45 718.22v9.0M189.08 718.22v9.0M168.88 729.55v9.0M205.4 729.55v9.0M153.34 740.88v9.0M191.42 740.88v9.0M163.44 752.21v9.0M206.96 752.21v9.0M148.68 763.54v9.0M181.31 763.54v9.0M165 774.87v9.0M201.52 774.87v9.0M149.46 786.2v9.0M184.42 786.2v9.0M147.9 797.53v9.0M187.53 797.53v9.0M171.21 808.86v9.0M205.4 808.86v9.0M152.57 820.19v9.0M190.64 820.19v9.0M178.21 831.52v9.0M218.61 831.52v9.0M169.66 842.85v9.0M214.73 842.85v9.0M150.23 854.18v9.0M178.21 854.18v9.0M169.66 865.51v9.0M200.74 865.51v9.0M144.8 876.84v9.0M182.09 876.84v9.0M157.23 888.17v9.0M199.19 888.17v9.0M160.34 899.5v9.0M196.08 899.5v9.0M140.13 910.83v9.0M180.54 910.83v9.0" stroke="#000" stroke-width="1.3" fill="none"/>
<g fill="#cc0c2f"><rect x="159.14" y="674.75" width="5.5" height="5.3"/><rect x="174.68" y="686.08" width="5.5" height="5.3"/><rect x="180.9" y="697.41" width="5.5" height="5.3"/><rect x="169.24" y="708.74" width="5.5" height="5.3"/><rect x="170.02" y="720.07" width="5.5" height="5.3"/><rect x="184.78" y="731.4" width="5.5" height="5.3"/><rect x="170.02" y="742.73" width="5.5" height="5.3"/><rect x="182.45" y="754.06" width="5.5" height="5.3"/><rect x="162.25" y="765.39" width="5.5" height="5.3"/><rect x="180.12" y="776.72" width="5.5" height="5.3"/><rect x="164.58" y="788.05" width="5.5" height="5.3"/><rect x="164.58" y="799.38" width="5.5" height="5.3"/><rect x="185.56" y="810.71" width="5.5" height="5.3"/><rect x="169.24" y="822.04" width="5.5" height="5.3"/><rect x="195.66" y="833.37" width="5.5" height="5.3"/><rect x="189.44" y="844.7" width="5.5" height="5.3"/><rect x="161.47" y="856.03" width="5.5" height="5.3"/><rect x="182.45" y="867.36" width="5.5" height="5.3"/><rect x="160.69" y="878.69" width="5.5" height="5.3"/><rect x="175.46" y="890.02" width="5.5" height="5.3"/><rect x="175.46" y="901.35" width="5.5" height="5.3"/><rect x="157.59" y="912.68" width="5.5" height="5.3"/></g>
<path d="M185.2 673.1V923.7" stroke="#000" stroke-width="1.3" stroke-dasharray="5.5 3.19" stroke-dashoffset="2.74" fill="none"/>
<path d="M156.5 923.7H214.2M161.89 923.7v4.5M185.2 923.7v4.5M208.51 923.7v4.5" stroke="#000" stroke-width="1.4" fill="none"/>
<text x="159.89" y="938.7" class="K" text-anchor="middle">−0.3</text>
<text x="185.2" y="938.7" class="K" text-anchor="middle">0</text>
<text x="208.51" y="938.7" class="K" text-anchor="middle">0.3</text>
<text x="461.4" y="679.7" class="C" text-anchor="end">−0.22</text>
<text x="461.4" y="679.7" class="C2"> (−0.49, 0.06)</text>
<text x="461.4" y="690.7" class="C" text-anchor="end">−0.10</text>
<text x="461.4" y="690.7" class="C2"> (−0.40, 0.19)</text>
<text x="461.4" y="702.8" class="C" text-anchor="end">−0.04</text>
<text x="461.4" y="702.8" class="C2"> (−0.29, 0.21)</text>
<text x="461.4" y="714.1" class="C" text-anchor="end">−0.15</text>
<text x="461.4" y="714.1" class="C2"> (−0.42, 0.12)</text>
<text x="461.4" y="726.1" class="C" text-anchor="end">−0.22</text>
<text x="461.4" y="726.1" class="C2"> (−0.46, 0.02)</text>
<text x="461.4" y="737.45" class="C" text-anchor="end">0.08</text>
<text x="461.4" y="737.45" class="C2"> (−0.18, 0.34)</text>
<text x="461.4" y="748.5" class="C" text-anchor="end">−0.13</text>
<text x="461.4" y="748.5" class="C2"> (−0.39, 0.14)</text>
<text x="461.4" y="760" class="C" text-anchor="end">0.08</text>
<text x="461.4" y="760" class="C2"> (−0.20, 0.36)</text>
<text x="461.4" y="771.6" class="C" text-anchor="end">−0.17</text>
<text x="461.4" y="771.6" class="C2"> (−0.43, 0.10)</text>
<text x="461.4" y="782.8" class="C" text-anchor="end">−0.03</text>
<text x="461.4" y="782.8" class="C2"> (−0.31, 0.26)</text>
<text x="461.4" y="794.2" class="C" text-anchor="end">−0.29</text>
<text x="461.4" y="794.2" class="C2">* (−0.56, −0.02)</text>
<text x="461.4" y="805.6" class="C" text-anchor="end">−0.19</text>
<text x="461.4" y="805.6" class="C2"> (−0.49, 0.10)</text>
<text x="461.4" y="817.1" class="C" text-anchor="end">0.02</text>
<text x="461.4" y="817.1" class="C2"> (−0.23, 0.27)</text>
<text x="461.4" y="828.1" class="C" text-anchor="end">−0.26</text>
<text x="461.4" y="828.1" class="C2"> (−0.53, 0.02)</text>
<text x="461.4" y="839.3" class="C" text-anchor="end">0.02</text>
<text x="461.4" y="839.3" class="C2"> (−0.28, 0.32)</text>
<text x="461.4" y="850.65" class="C" text-anchor="end">0.16</text>
<text x="461.4" y="850.65" class="C2"> (−0.16, 0.49)</text>
<text x="461.4" y="861.9" class="C" text-anchor="end">−0.27</text>
<text x="461.4" y="861.9" class="C2">* (−0.49, −0.06)</text>
<text x="461.4" y="873.5" class="C" text-anchor="end">−0.03</text>
<text x="461.4" y="873.5" class="C2"> (−0.26, 0.21)</text>
<text x="461.4" y="884.7" class="C" text-anchor="end">−0.18</text>
<text x="461.4" y="884.7" class="C2"> (−0.48, 0.13)</text>
<text x="461.4" y="895.7" class="C" text-anchor="end">−0.09</text>
<text x="461.4" y="895.7" class="C2"> (−0.42, 0.24)</text>
<text x="461.4" y="907.3" class="C" text-anchor="end">−0.09</text>
<text x="461.4" y="907.3" class="C2"> (−0.36, 0.19)</text>
<text x="461.4" y="918.6" class="C" text-anchor="end">−0.35</text>
<text x="461.4" y="918.6" class="C2">* (−0.65, −0.05)</text>
<path d="M358.3 677.4H396.69M364.58 688.73H405.76M372.26 700.06H407.16M363.18 711.39H400.88M360.39 722.72H393.9M379.94 734.05H416.23M365.28 745.38H402.27M378.54 756.71H417.63M362.49 768.04H399.48M370.86 779.37H410.65M353.41 790.7H391.1M358.3 802.03H399.48M376.45 813.36H411.35M355.51 824.69H393.9M372.96 836.02H414.84M381.33 847.35H426.7M358.3 858.68H388.31M374.35 870.01H407.16M359 881.34H401.57M363.18 892.67H409.25M367.37 904H405.76M347.13 915.33H389.01M358.3 672.9v9.0M396.69 672.9v9.0M364.58 684.23v9.0M405.76 684.23v9.0M372.26 695.56v9.0M407.16 695.56v9.0M363.18 706.89v9.0M400.88 706.89v9.0M360.39 718.22v9.0M393.9 718.22v9.0M379.94 729.55v9.0M416.23 729.55v9.0M365.28 740.88v9.0M402.27 740.88v9.0M378.54 752.21v9.0M417.63 752.21v9.0M362.49 763.54v9.0M399.48 763.54v9.0M370.86 774.87v9.0M410.65 774.87v9.0M353.41 786.2v9.0M391.1 786.2v9.0M358.3 797.53v9.0M399.48 797.53v9.0M376.45 808.86v9.0M411.35 808.86v9.0M355.51 820.19v9.0M393.9 820.19v9.0M372.96 831.52v9.0M414.84 831.52v9.0M381.33 842.85v9.0M426.7 842.85v9.0M358.3 854.18v9.0M388.31 854.18v9.0M374.35 865.51v9.0M407.16 865.51v9.0M359 876.84v9.0M401.57 876.84v9.0M363.18 888.17v9.0M409.25 888.17v9.0M367.37 899.5v9.0M405.76 899.5v9.0M347.13 910.83v9.0M389.01 910.83v9.0" stroke="#000" stroke-width="1.3" fill="none"/>
<g fill="#cc0c2f"><rect x="374.39" y="674.75" width="5.5" height="5.3"/><rect x="382.77" y="686.08" width="5.5" height="5.3"/><rect x="386.96" y="697.41" width="5.5" height="5.3"/><rect x="379.28" y="708.74" width="5.5" height="5.3"/><rect x="374.39" y="720.07" width="5.5" height="5.3"/><rect x="395.33" y="731.4" width="5.5" height="5.3"/><rect x="380.68" y="742.73" width="5.5" height="5.3"/><rect x="395.33" y="754.06" width="5.5" height="5.3"/><rect x="377.88" y="765.39" width="5.5" height="5.3"/><rect x="387.66" y="776.72" width="5.5" height="5.3"/><rect x="369.51" y="788.05" width="5.5" height="5.3"/><rect x="376.49" y="799.38" width="5.5" height="5.3"/><rect x="391.15" y="810.71" width="5.5" height="5.3"/><rect x="371.6" y="822.04" width="5.5" height="5.3"/><rect x="391.15" y="833.37" width="5.5" height="5.3"/><rect x="400.92" y="844.7" width="5.5" height="5.3"/><rect x="370.9" y="856.03" width="5.5" height="5.3"/><rect x="387.66" y="867.36" width="5.5" height="5.3"/><rect x="377.19" y="878.69" width="5.5" height="5.3"/><rect x="383.47" y="890.02" width="5.5" height="5.3"/><rect x="383.47" y="901.35" width="5.5" height="5.3"/><rect x="365.32" y="912.68" width="5.5" height="5.3"/></g>
<path d="M392.5 673.1V923.7" stroke="#000" stroke-width="1.3" stroke-dasharray="5.5 3.19" stroke-dashoffset="2.74" fill="none"/>
<path d="M366.2 923.7H419.8M371.56 923.7v4.5M392.5 923.7v4.5M413.44 923.7v4.5" stroke="#000" stroke-width="1.4" fill="none"/>
<text x="369.56" y="938.7" class="K" text-anchor="middle">−0.3</text>
<text x="392.5" y="938.7" class="K" text-anchor="middle">0</text>
<text x="413.44" y="938.7" class="K" text-anchor="middle">0.3</text>
<rect x="0" y="0" width="1.5" height="948" fill="#000"/><rect x="0" y="0" width="520" height="1.5" fill="#000"/>
<rect x="518" y="0" width="2" height="948" fill="#000"/><rect x="0" y="946" width="520" height="2" fill="#000"/>
</svg>
</body></html>
